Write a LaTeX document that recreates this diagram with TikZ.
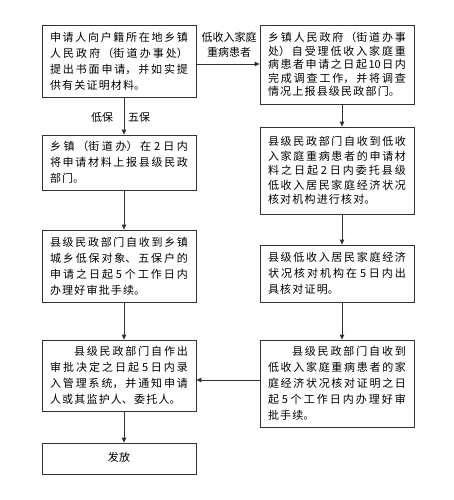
\documentclass[tikz,border=0pt]{standalone}
\usepackage{fontspec}
\newfontfamily\cjk{Noto Sans CJK SC}
\usetikzlibrary{arrows.meta}
\XeTeXlinebreaklocale "zh"
\XeTeXlinebreakskip=1.2pt plus 3pt minus 0.3pt
\begin{document}
\begin{tikzpicture}[x=1pt,y=-1pt,
  box/.style={draw=black!80, line width=0.8pt, rectangle, inner xsep=8pt, inner ysep=2pt,
    text width=138pt, align=justify, font=\cjk\fontsize{11pt}{16pt}\selectfont, fill=white},
  lbl/.style={font=\cjk\fontsize{11pt}{15pt}\selectfont, inner sep=0pt, align=center},
  conn/.style={draw=black!80, line width=0.8pt, -{Triangle[length=5pt,width=4.5pt]}},
  plain/.style={draw=black!80, line width=0.8pt}]
\useasboundingbox[fill=white] (0,0) rectangle (453,500);
\coordinate (lx) at (124,0);
\coordinate (rx) at (342,0);
\coordinate (hy) at (0,64);
\coordinate (by) at (0,380);

\node[box, minimum height=72pt] (l1) at (119,61) {申请人向户籍所在地乡镇\linebreak 人民政府（街道办事处）\linebreak 提出书面申请，并如实提\linebreak 供有关证明材料。};
\node[box, minimum height=55pt] (l2) at (119,162.5) {乡镇（街道办）在\ 2\ 日内\linebreak 将申请材料上报县级民政\linebreak 部门。};
\node[box, minimum height=72pt] (l3) at (119,266) {县级民政部门自收到乡镇\linebreak 城乡低保对象、五保户的\linebreak 申请之日起\ 5\ 个工作日内\linebreak 办理好审批手续。};
\node[box, minimum height=71pt] (l4) at (119,375.5) {\hspace*{24pt}县级民政部门自作出\linebreak 审批决定之日起\ 5\ 日内录\linebreak 入管理系统，并通知申请\linebreak 人或其监护人、委托人。};
\node[box, minimum height=31pt, align=center, text depth=4pt] (l5) at (119,458.5) {\XeTeXlinebreakskip=0.5pt\relax 发放};

\node[box, minimum height=79pt, font=\cjk\fontsize{11pt}{13.5pt}\selectfont] (r1) at (337,64.5) {乡镇人民政府（街道办事\linebreak 处）自受理低收入家庭重\linebreak 病患者申请之日起10日内\linebreak 完成调查工作，并将调查\linebreak 情况上报县级民政部门。};
\node[box, minimum height=87pt, font=\cjk\fontsize{11pt}{14.5pt}\selectfont] (r2) at (337,170.5) {县级民政部门自收到低收\linebreak 入家庭重病患者的申请材\linebreak 料之日起\ 2\ 日内委托县级\linebreak 低收入居民家庭经济状况\linebreak 核对机构进行核对。};
\node[box, minimum height=57pt] (r3) at (337,273.5) {县级低收入居民家庭经济\linebreak 状况核对机构在\ 5\ 日内出\linebreak 具核对证明。};
\node[box, minimum height=87pt] (r4) at (337,383.5) {\hspace*{24pt}县级民政部门自收到\linebreak 低收入家庭重病患者的家\linebreak 庭经济状况核对证明之日\linebreak 起\ 5\ 个工作日内办理好审\linebreak 批手续。};

\node[lbl] (t1) at (229,45) {低收入家庭\\重病患者};
\node[lbl] (t2) at (102,117) {低保};
\node[lbl] (t3) at (139,117) {五保};

\draw[conn] (l1.east |- hy) -- (r1.west |- hy);
\draw[conn] (l1.south -| lx) -- (l2.north -| lx);
\draw[conn] (l2.south -| lx) -- (l3.north -| lx);
\draw[conn] (l3.south -| lx) -- (l4.north -| lx);
\draw[conn] (l4.south -| lx) -- (l5.north -| lx);
\draw[conn] (r1.south -| rx) -- (r2.north -| rx);
\draw[conn] (r2.south -| rx) -- (r3.north -| rx);
\draw[conn] (r3.south -| rx) -- (r4.north -| rx);
\draw[conn] (r4.west |- by) -- (l4.east |- by);
\end{tikzpicture}
\end{document}
